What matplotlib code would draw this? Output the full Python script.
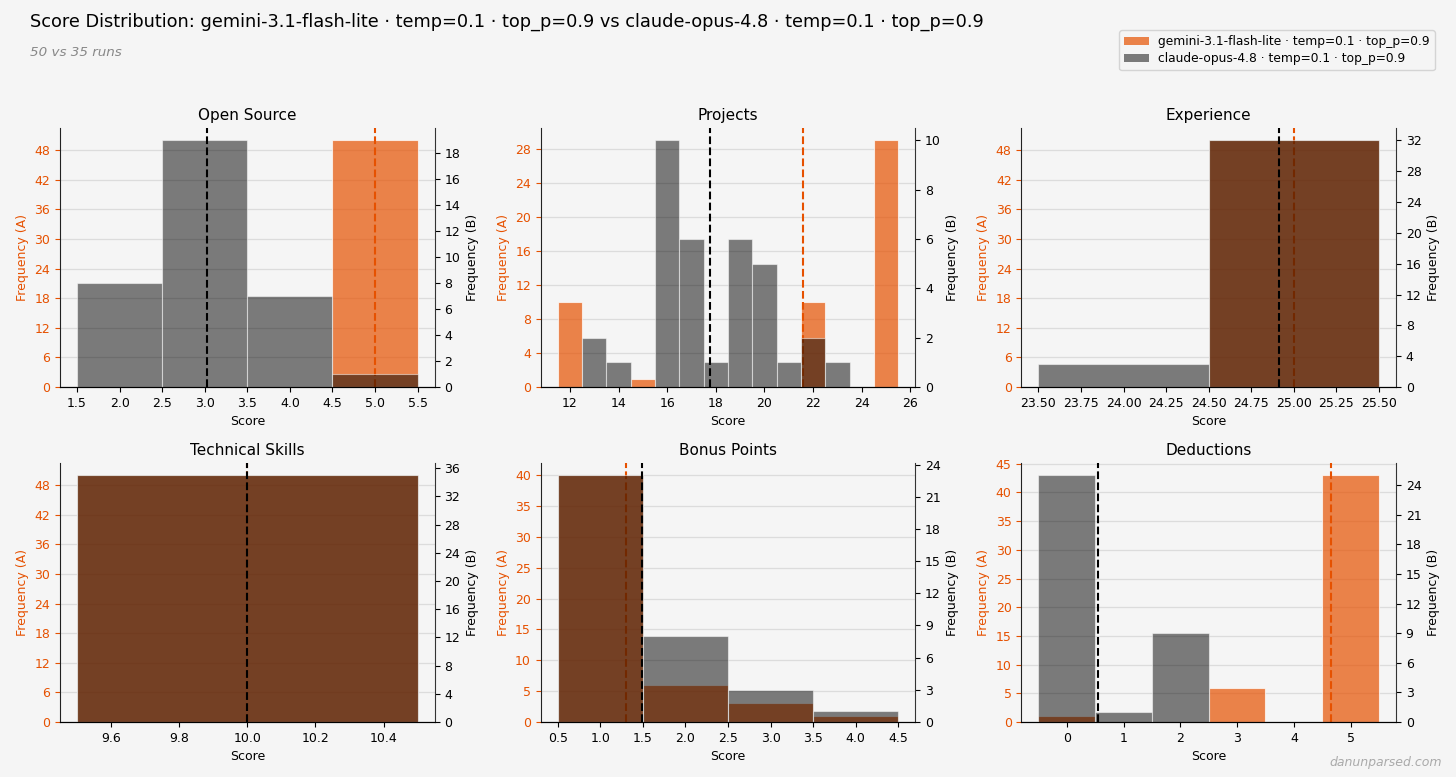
import numpy as np
import matplotlib
matplotlib.use("Agg")
import matplotlib.pyplot as plt
from matplotlib.ticker import MaxNLocator
from matplotlib.patches import Patch

BG = '#F5F5F5'
ORANGE = '#E65100'
GRAY_B = 'black'
LW = 0.8
FNT = 9

label_a = "gemini-3.1-flash-lite · temp=0.1 · top_p=0.9"
label_b = "claude-opus-4.8 · temp=0.1 · top_p=0.9"
n_runs_a = 50
n_runs_b = 35

categories = ["Open Source", "Projects", "Experience",
              "Technical Skills", "Bonus Points", "Deductions"]

# score values and run counts per score (A = gemini, B = claude)
open_scores = [2, 3, 4, 5]
open_a = [0, 0, 0, 50]
open_b = [8, 19, 7, 1]

proj_scores = [12, 13, 14, 15, 16, 17, 18, 19, 20, 21, 22, 23, 24, 25]
proj_a = [10, 0, 0, 1, 0, 0, 0, 0, 0, 0, 10, 0, 0, 29]
proj_b = [0, 2, 1, 0, 10, 6, 1, 6, 5, 1, 2, 1, 0, 0]

exp_scores = [24, 25]
exp_a = [0, 50]
exp_b = [3, 32]

tech_scores = [10]
tech_a = [50]
tech_b = [35]

bonus_scores = [1, 2, 3, 4]
bonus_a = [40, 6, 3, 1]
bonus_b = [23, 8, 3, 1]

ded_scores = [0, 1, 2, 3, 4, 5]
ded_a = [1, 0, 0, 6, 0, 43]
ded_b = [25, 1, 9, 0, 0, 0]

panels = [
    (open_scores, open_a, open_b),
    (proj_scores, proj_a, proj_b),
    (exp_scores, exp_a, exp_b),
    (tech_scores, tech_a, tech_b),
    (bonus_scores, bonus_a, bonus_b),
    (ded_scores, ded_a, ded_b),
]

plt.rcParams['font.family'] = ['DejaVu Sans']

fig, axes = plt.subplots(2, 3, figsize=(14.56, 7.77), dpi=100)
fig.patch.set_facecolor(BG)
fig.subplots_adjust(left=0.0412, right=0.9588, top=0.8353, bottom=0.0708,
                    wspace=0.283, hspace=0.293)


def ylocator():
    return MaxNLocator(nbins=10, steps=[1, 2, 3, 4, 5, 6, 8, 10], integer=True)


for ax, name, (scores, a, b) in zip(axes.flat, categories, panels):
    scores = np.array(scores, dtype=float)
    a = np.array(a)
    b = np.array(b)
    ax.set_facecolor(BG)
    ax2 = ax.twinx()

    ma = a > 0
    mb = b > 0
    ax.bar(scores[ma], a[ma], width=1.0, color=ORANGE, alpha=0.7,
           edgecolor='white', linewidth=LW)
    ax2.bar(scores[mb], b[mb], width=1.0, color=GRAY_B, alpha=0.5,
            edgecolor='white', linewidth=LW)

    mean_a = np.average(scores, weights=a)
    mean_b = np.average(scores, weights=b)
    ax.axvline(mean_a, color=ORANGE, linestyle='--', linewidth=1.5)
    ax2.axvline(mean_b, color='black', linestyle='--', linewidth=1.5)

    ax.set_ylim(0, a.max() * 1.05)
    ax2.set_ylim(0, b.max() * 1.05)
    ax.yaxis.set_major_locator(ylocator())
    ax2.yaxis.set_major_locator(ylocator())

    ax.set_axisbelow(True)
    ax.yaxis.grid(True, color='#dcdcdc', linewidth=0.9)

    ax.spines['top'].set_visible(False)
    ax.spines['right'].set_visible(False)
    ax.spines['left'].set_color('#222222')
    ax2.spines['top'].set_visible(False)
    ax2.spines['left'].set_visible(False)
    ax2.spines['right'].set_color('#333333')

    ax.tick_params(axis='y', colors=ORANGE, labelsize=FNT)
    ax.tick_params(axis='x', labelsize=FNT)
    ax2.tick_params(axis='y', labelsize=FNT, colors='black')

    ax.set_ylabel('Frequency (A)', color=ORANGE, fontsize=FNT)
    ax2.set_ylabel('Frequency (B)', fontsize=FNT)
    ax.set_xlabel('Score', fontsize=FNT)
    ax.set_title(name, fontsize=11)

fig.text(0.0206, 0.9717,
         "Score Distribution: " + label_a + " vs " + label_b,
         fontsize=12.75, ha='left', va='center')
fig.text(0.0206, 0.933, "%d vs %d runs" % (n_runs_a, n_runs_b),
         fontsize=9.7, style='italic', color='#888888', ha='left', va='center')

handles = [Patch(facecolor=ORANGE, alpha=0.7, label=label_a),
           Patch(facecolor=GRAY_B, alpha=0.5, label=label_b)]
fig.legend(handles=handles, loc='upper right', bbox_to_anchor=(0.9897, 0.969),
           fontsize=8.8, labelspacing=0.35, frameon=True, facecolor=BG,
           edgecolor='#cccccc')

fig.text(0.99, 0.019, 'danunparsed.com', fontsize=9, style='italic',
         color='#aaaaaa', ha='right', va='center')

fig.savefig('out.png', dpi=100, facecolor=BG)
